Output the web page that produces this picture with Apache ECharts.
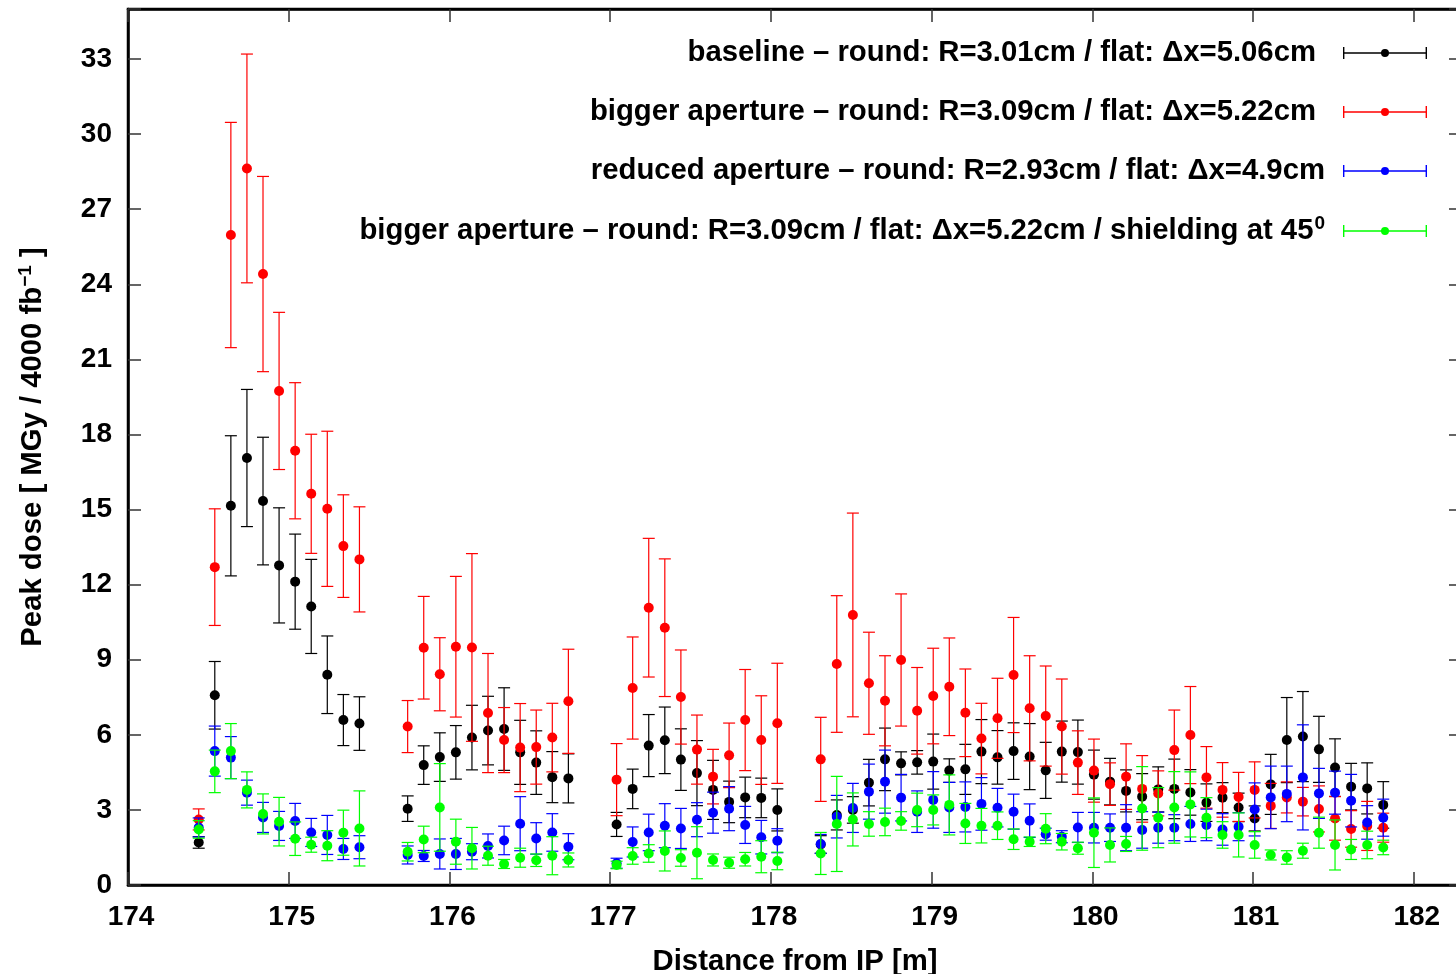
<!DOCTYPE html>
<html>
<head>
<meta charset="utf-8">
<script src="https://cdn.jsdelivr.net/npm/echarts@6/dist/echarts.min.js"></script>
<style>
html,body{margin:0;padding:0;background:#fff;overflow:hidden;}
#chart{width:1456px;height:974px;}
</style>
</head>
<body>
<div id="chart"></div>
<script>
// ---- data ----
const distance = [
  174.44,174.54,174.64,174.74,174.84,174.94,175.04,175.14,175.24,175.34,175.44,
  175.74,175.84,175.94,176.04,176.14,176.24,176.34,176.44,176.54,176.64,176.74,
  177.04,177.14,177.24,177.34,177.44,177.54,177.64,177.74,177.84,177.94,178.04,
  178.31,178.41,178.51,178.61,178.71,178.81,178.91,179.01,179.11,179.21,
  179.31,179.41,179.51,179.61,179.71,179.81,179.91,180.01,180.11,180.21,
  180.31,180.41,180.51,180.61,180.71,180.81,180.91,181.01,181.11,181.21,
  181.31,181.41,181.51,181.61,181.71,181.81
];

const baselineDose = [
  1.70,7.58,15.15,17.06,15.34,12.77,12.12,11.13,8.40,6.59,6.45,
  3.05,4.79,5.11,5.30,5.89,6.17,6.23,5.30,4.89,4.31,4.26,
  2.42,3.84,5.57,5.78,5.01,4.47,3.80,3.32,3.50,3.48,3.00,
  1.62,2.80,3.00,4.09,5.02,4.86,4.90,4.93,4.57,4.62,
  5.33,5.10,5.35,5.13,4.58,5.33,5.31,4.41,4.13,3.76,
  3.53,3.82,3.84,3.70,3.29,3.49,3.10,2.66,4.02,5.79,
  5.93,5.42,4.69,3.93,3.86,3.20
];
const baselineErr = [
  0.23,1.35,2.80,2.74,2.55,2.30,1.90,1.88,1.55,1.02,1.07,
  0.51,0.77,0.97,1.07,1.29,1.37,1.65,1.28,1.27,1.02,0.98,
  0.48,0.79,1.24,1.33,1.23,1.30,1.18,0.83,0.81,0.79,0.84,
  0.35,0.60,0.53,0.93,1.25,0.46,0.47,1.10,0.47,1.00,
  1.28,1.07,1.13,1.32,1.12,1.22,1.28,0.98,0.93,0.84,
  0.92,0.90,1.19,0.91,0.75,0.60,0.57,0.50,1.20,1.70,
  1.80,1.32,1.15,0.93,1.02,0.93
];

const biggerDose = [
  2.62,12.70,25.97,28.63,24.41,19.74,17.35,15.63,15.03,13.54,13.01,
  6.33,9.48,8.42,9.52,9.49,6.87,5.79,5.49,5.51,5.89,7.34,
  4.21,7.87,11.08,10.28,7.51,5.41,4.33,5.18,6.59,5.79,6.46,
  5.02,8.83,10.79,8.06,7.36,8.99,6.96,7.55,7.92,6.88,
  5.85,6.66,8.39,7.06,6.75,6.33,4.89,4.57,4.03,4.33,
  3.84,3.66,5.39,5.99,4.30,3.80,3.52,3.80,3.16,3.50,
  3.33,3.04,2.66,2.24,2.36,2.29
];
const biggerErr = [
  0.42,2.33,4.50,4.57,3.90,3.14,2.72,2.38,3.10,2.05,2.10,
  1.04,2.05,1.46,2.81,3.75,2.38,1.30,1.76,1.48,1.37,2.08,
  1.44,2.04,2.77,2.75,1.88,1.38,1.09,1.29,2.02,1.77,2.40,
  1.68,2.73,4.07,2.04,1.80,2.64,1.73,1.91,1.95,1.75,
  1.41,1.60,2.30,2.10,2.00,1.90,1.27,1.26,0.85,1.31,
  1.33,0.90,1.60,1.94,1.23,1.09,0.98,1.12,0.90,0.62,
  0.57,0.92,0.87,0.73,0.98,0.58
];

const reducedDose = [
  2.30,5.35,5.09,3.69,2.70,2.36,2.56,2.10,2.00,1.44,1.51,
  1.20,1.16,1.24,1.24,1.33,1.56,1.78,2.45,1.86,2.10,1.53,
  0.87,1.72,2.10,2.37,2.26,2.61,2.89,3.05,2.40,1.91,1.77,
  1.64,2.73,3.08,3.73,4.13,3.49,2.93,3.40,3.10,3.12,
  3.24,3.09,2.93,2.57,2.03,1.93,2.30,2.29,2.29,2.29,
  2.20,2.29,2.29,2.44,2.40,2.22,2.33,3.02,3.50,3.64,
  4.30,3.66,3.69,3.37,2.50,2.69
];
const reducedErr = [
  0.38,1.00,0.84,0.50,0.60,0.58,0.70,0.56,0.78,0.42,0.46,
  0.36,0.22,0.60,0.62,0.32,0.48,0.57,1.08,0.63,0.75,0.52,
  0.20,0.60,0.73,0.88,0.80,0.68,0.82,0.88,0.74,0.67,0.48,
  0.38,0.85,0.98,1.10,1.26,0.93,0.83,1.13,1.00,1.00,
  1.05,0.77,0.70,0.67,0.24,0.24,0.60,0.61,0.55,0.92,
  0.73,0.62,0.52,0.70,0.63,0.63,0.56,1.06,1.25,1.11,
  2.10,1.00,0.86,1.05,0.67,0.74
];

const shieldDose = [
  2.22,4.54,5.35,3.80,2.84,2.53,1.85,1.61,1.57,2.09,2.26,
  1.33,1.82,3.10,1.73,1.47,1.17,0.84,1.09,0.99,1.17,1.00,
  0.80,1.16,1.26,1.36,1.08,1.29,1.00,0.89,1.03,1.13,0.96,
  1.26,2.44,2.62,2.44,2.52,2.56,3.00,3.00,3.20,2.46,
  2.37,2.37,1.83,1.73,2.25,1.73,1.47,2.09,1.60,1.64,
  3.06,2.69,3.10,3.22,2.69,2.00,2.00,1.60,1.20,1.10,
  1.37,2.09,1.60,1.42,1.60,1.50
];
const shieldErr = [
  0.35,0.85,1.10,0.72,0.80,0.97,0.67,0.30,0.60,0.90,1.50,
  0.37,0.53,1.75,0.90,0.83,0.38,0.18,0.38,0.25,0.76,0.28,
  0.15,0.33,0.35,0.80,0.33,1.04,0.24,0.22,0.27,0.64,0.35,
  0.84,1.90,1.06,0.49,0.55,0.37,0.67,0.60,1.20,0.80,
  0.69,0.55,0.41,0.19,0.60,0.33,0.24,1.39,0.68,0.30,
  1.67,1.20,1.43,1.30,0.80,0.53,0.88,0.53,0.20,0.27,
  0.30,0.62,1.00,0.40,0.55,0.29
];

const seriesNames = [
  'baseline – round: R=3.01cm / flat: Δx=5.06cm',
  'bigger aperture – round: R=3.09cm / flat: Δx=5.22cm',
  'reduced aperture – round: R=2.93cm / flat: Δx=4.9cm',
  'bigger aperture – round: R=3.09cm / flat: Δx=5.22cm / shielding at 45'
];
const seriesColors = ['#000000', '#ff0000', '#0000ff', '#00ff00'];
const xTicks = [174,175,176,177,178,179,180,181,182];
const yTicks = [0,3,6,9,12,15,18,21,24,27,30,33];
const xTitle = 'Distance from IP [m]';

// ---- chart ----
const FONT = "'Liberation Sans', Arial, Helvetica, sans-serif";
const chart = echarts.init(document.getElementById('chart'), null, {renderer: 'canvas', width: 1456, height: 974});

function build(vals, errs) {
  return distance.map((x, i) => [x, vals[i], errs[i]]);
}
const datasets = [
  build(baselineDose, baselineErr),
  build(biggerDose, biggerErr),
  build(reducedDose, reducedErr),
  build(shieldDose, shieldErr)
];

function renderErr(params, api) {
  const x = api.value(0), y = api.value(1), e = api.value(2);
  const c = api.coord([x, y]);
  const t = api.coord([x, y + e]);
  const b = api.coord([x, Math.max(0, y - e)]);
  const col = api.visual('color');
  const ls = {stroke: col, lineWidth: 1.2};
  return {
    type: 'group',
    children: [
      {type: 'line', shape: {x1: c[0], y1: t[1], x2: c[0], y2: b[1]}, style: ls},
      {type: 'line', shape: {x1: c[0] - 6, y1: t[1], x2: c[0] + 6, y2: t[1]}, style: ls},
      {type: 'line', shape: {x1: c[0] - 6, y1: b[1], x2: c[0] + 6, y2: b[1]}, style: ls},
      {type: 'circle', shape: {cx: c[0], cy: c[1], r: 5}, style: {fill: col}}
    ]
  };
}

const ICON = 'path://M0,0 H1.4 V12 H0 Z M82.6,0 H84 V12 H82.6 Z M0,5.35 H84 V6.65 H0 Z M46,6 A4,4 0 1,1 38,6 A4,4 0 1,1 46,6 Z';
const legendTops = [36, 95, 154, 214];
const legendTextGap = [22, 22, 13, 13];
const LF = 29.3;

const legends = seriesNames.map((n, i) => ({
  show: true,
  data: [n],
  selectedMode: false,
  orient: 'vertical',
  right: 29,
  top: legendTops[i],
  padding: 0,
  align: 'right',
  icon: ICON,
  itemWidth: 84,
  itemHeight: 12,
  itemStyle: {borderWidth: 0},
  formatter: function (name) {
    if (i === 3) return '{t|' + name + '}{s|0}';
    return '{t|' + name + '}';
  },
  textStyle: {
    color: '#000',
    fontFamily: FONT,
    fontWeight: 'bold',
    fontSize: LF,
    lineHeight: 34,
    padding: [0, legendTextGap[i], 0, 0],
    rich: {
      t: {fontFamily: FONT, fontWeight: 'bold', fontSize: LF, lineHeight: 34, color: '#000'},
      s: {fontFamily: FONT, fontWeight: 'bold', fontSize: 19, lineHeight: 34, verticalAlign: 'top', color: '#000', padding: [0, 0, 14, 1]}
    }
  }
}));

const tickStyle = {inside: true, length: 13, lineStyle: {color: '#333', width: 1.5}};
const lineStyleAxis = {show: true, onZero: false, lineStyle: {color: '#000', width: 2.5}};

const option = {
  animation: false,
  backgroundColor: '#ffffff',
  textStyle: {fontFamily: FONT},
  grid: {
    left: 128, top: 9, width: 1334, height: 876,
    containLabel: false, outerBoundsMode: 'none',
    show: true, borderColor: '#000', borderWidth: 2.5
  },
  legend: legends,
  xAxis: [
    {
      type: 'value', min: 174, max: 182.3, interval: 1, position: 'bottom',
      axisLine: lineStyleAxis, axisTick: tickStyle, splitLine: {show: false},
      axisLabel: {
        color: '#000', fontSize: 28, fontWeight: 'bold', fontFamily: FONT, margin: 18,
        padding: [0, 0, 0, 6],
        formatter: v => (xTicks.indexOf(Math.round(v * 1000) / 1000) >= 0 ? String(v) : '')
      },
      name: xTitle, nameLocation: 'middle', nameGap: 62,
      nameTextStyle: {color: '#000', fontSize: LF, fontWeight: 'bold', fontFamily: FONT}
    },
    {
      type: 'value', min: 174, max: 182.3, interval: 1, position: 'top',
      axisLine: lineStyleAxis, axisTick: tickStyle, splitLine: {show: false},
      axisLabel: {show: false}
    }
  ],
  yAxis: [
    {
      type: 'value', min: 0, max: 35, interval: 3, position: 'left',
      axisLine: lineStyleAxis, axisTick: tickStyle, splitLine: {show: false},
      axisLabel: {
        color: '#000', fontSize: 28, fontWeight: 'bold', fontFamily: FONT, margin: 16,
        formatter: v => (yTicks.indexOf(v) >= 0 ? String(v) : '')
      },
      name: '{a|Peak dose [ MGy / 4000 fb}{s|−1}{a| ]}',
      nameLocation: 'middle', nameGap: 78, nameRotate: 90,
      nameTextStyle: {
        color: '#000', fontFamily: FONT,
        rich: {
          a: {fontSize: LF, fontWeight: 'bold', fontFamily: FONT, color: '#000', lineHeight: 34},
          s: {fontSize: 19, fontWeight: 'bold', fontFamily: FONT, color: '#000', lineHeight: 34, verticalAlign: 'top', padding: [0, 0, 14, 0]}
        }
      }
    },
    {
      type: 'value', min: 0, max: 35, interval: 3, position: 'right',
      axisLine: lineStyleAxis, axisTick: tickStyle, splitLine: {show: false},
      axisLabel: {show: false}
    }
  ],
  series: seriesNames.map((n, i) => ({
    name: n,
    type: 'custom',
    xAxisIndex: 0,
    yAxisIndex: 0,
    itemStyle: {color: seriesColors[i]},
    encode: {x: 0, y: 1},
    renderItem: renderErr,
    data: datasets[i],
    z: 2 + i
  }))
};

chart.setOption(option);
</script>
</body>
</html>
